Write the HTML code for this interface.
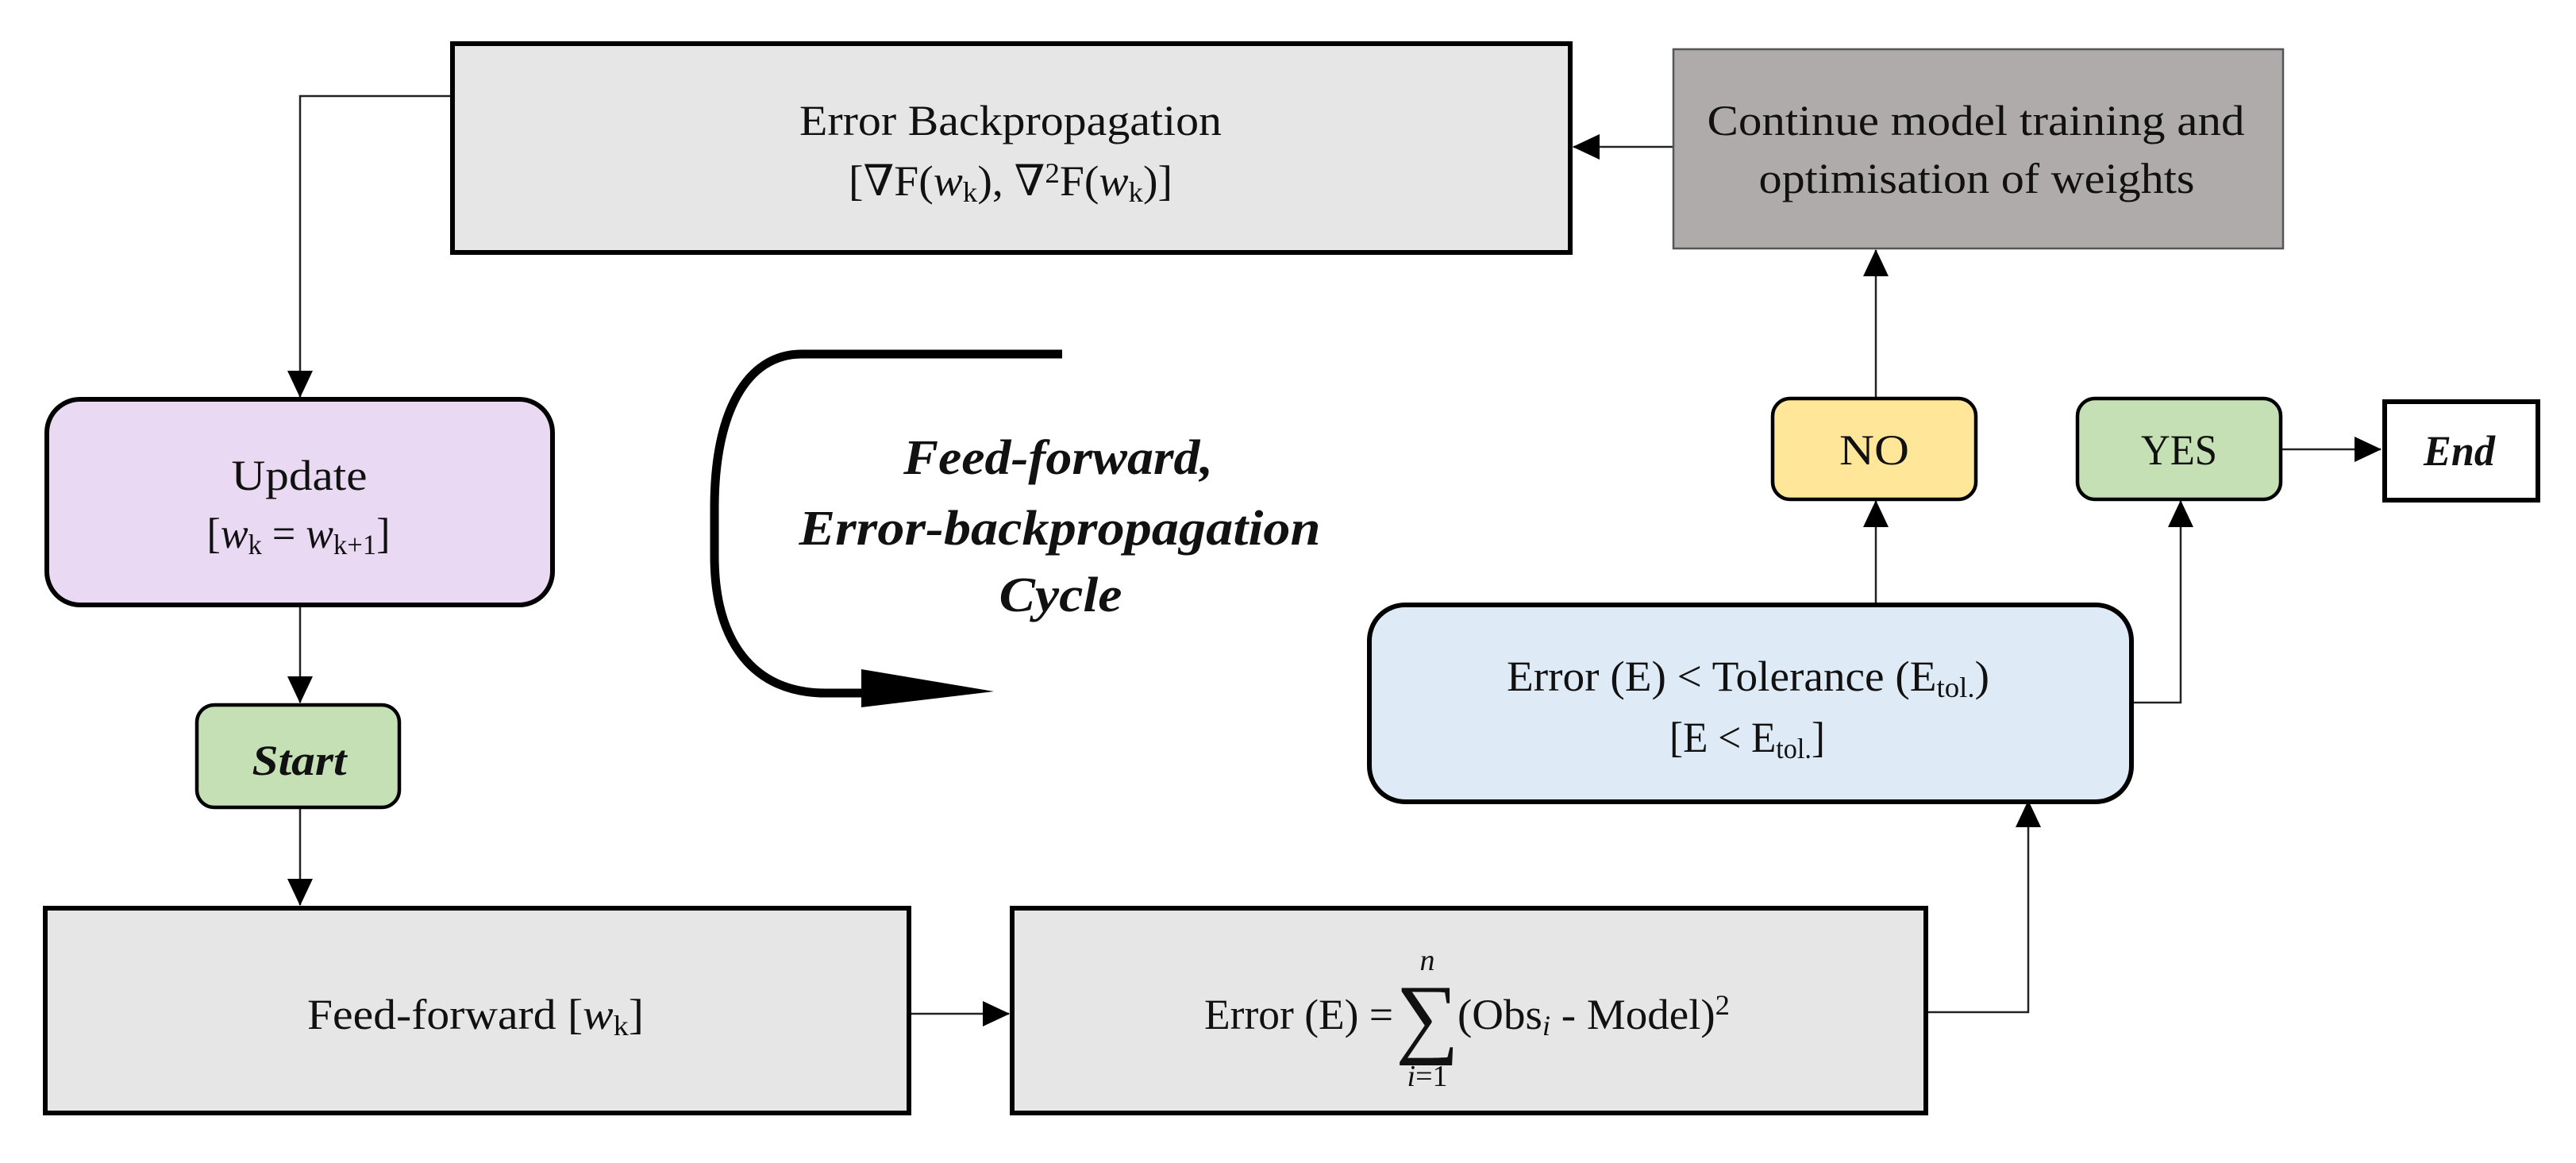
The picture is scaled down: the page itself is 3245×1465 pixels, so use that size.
<!DOCTYPE html>
<html><head><meta charset="utf-8"><style>
html,body{margin:0;padding:0;background:#fff;}
svg{display:block;}
text{font-family:"Liberation Serif","DejaVu Serif",serif;fill:#111;}
</style></head><body>
<svg width="3245" height="1465" viewBox="0 0 3245 1465" xmlns="http://www.w3.org/2000/svg">
<defs>
<marker id="ah" markerWidth="34" markerHeight="34" refX="33" refY="16" orient="auto" markerUnits="userSpaceOnUse">
<path d="M0,0 L34,16 L0,32 Z" fill="#000"/>
</marker>
</defs>

<!-- connectors -->
<polyline points="568,121 378,121 378,500" fill="none" stroke="#222" stroke-width="2.5" marker-end="url(#ah)"/>
<line x1="378" y1="763" x2="378" y2="885" stroke="#222" stroke-width="2.5" marker-end="url(#ah)"/>
<line x1="378" y1="1018" x2="378" y2="1140" stroke="#222" stroke-width="2.5" marker-end="url(#ah)"/>
<line x1="1147" y1="1277" x2="1271" y2="1277" stroke="#222" stroke-width="2.5" marker-end="url(#ah)"/>
<polyline points="2428,1275 2555,1275 2555,1009" fill="none" stroke="#222" stroke-width="2.5" marker-end="url(#ah)"/>
<line x1="2363" y1="760" x2="2363" y2="631" stroke="#222" stroke-width="2.5" marker-end="url(#ah)"/>
<polyline points="2687,885 2747,885 2747,631" fill="none" stroke="#222" stroke-width="2.5" marker-end="url(#ah)"/>
<line x1="2363" y1="500" x2="2363" y2="315" stroke="#222" stroke-width="2.5" marker-end="url(#ah)"/>
<line x1="2107" y1="185" x2="1982" y2="185" stroke="#222" stroke-width="2.5" marker-end="url(#ah)"/>
<line x1="2874" y1="566" x2="2999" y2="566" stroke="#222" stroke-width="2.5" marker-end="url(#ah)"/>

<!-- Error Backpropagation -->
<rect x="570" y="55" width="1408" height="263" fill="#e7e6e6" stroke="#000" stroke-width="6"/>
<text x="1273" y="170" font-size="54" text-anchor="middle" textLength="532" lengthAdjust="spacingAndGlyphs">Error Backpropagation</text>
<text x="1273" y="246" font-size="54" text-anchor="middle" textLength="408" lengthAdjust="spacingAndGlyphs">[∇F(<tspan font-style="italic">w</tspan><tspan font-size="36" dy="8">k</tspan><tspan dy="-8">), ∇</tspan><tspan font-size="36" dy="-16">2</tspan><tspan dy="16">F(</tspan><tspan font-style="italic">w</tspan><tspan font-size="36" dy="8">k</tspan><tspan dy="-8">)]</tspan></text>

<!-- Continue -->
<rect x="2108" y="62" width="768" height="251" fill="#afabab" stroke="#555" stroke-width="2.5"/>
<text x="2489" y="170" font-size="54" text-anchor="middle" textLength="677" lengthAdjust="spacingAndGlyphs">Continue model training and</text>
<text x="2490" y="243" font-size="54" text-anchor="middle" textLength="549" lengthAdjust="spacingAndGlyphs">optimisation of weights</text>

<!-- Update -->
<rect x="59" y="503" width="637" height="259" rx="42" fill="#ead9f2" stroke="#000" stroke-width="6"/>
<text x="377" y="617" font-size="54" text-anchor="middle" textLength="171" lengthAdjust="spacingAndGlyphs">Update</text>
<text x="376" y="690" font-size="54" text-anchor="middle" textLength="231" lengthAdjust="spacingAndGlyphs">[<tspan font-style="italic">w</tspan><tspan font-size="36" dy="8">k</tspan><tspan dy="-8"> = </tspan><tspan font-style="italic">w</tspan><tspan font-size="36" dy="8">k+1</tspan><tspan dy="-8">]</tspan></text>

<!-- Start -->
<rect x="248" y="888" width="255" height="129" rx="22" fill="#c5e0b4" stroke="#000" stroke-width="4.5"/>
<text x="377" y="976" font-size="54" font-weight="bold" font-style="italic" text-anchor="middle" textLength="119" lengthAdjust="spacingAndGlyphs">Start</text>

<!-- Feed-forward -->
<rect x="57" y="1144" width="1088" height="258" fill="#e7e6e6" stroke="#000" stroke-width="6"/>
<text x="599" y="1296" font-size="54" text-anchor="middle" textLength="424" lengthAdjust="spacingAndGlyphs">Feed-forward [<tspan font-style="italic">w</tspan><tspan font-size="36" dy="8">k</tspan><tspan dy="-8">]</tspan></text>

<!-- Error formula box -->
<rect x="1275" y="1144" width="1151" height="258" fill="#e7e6e6" stroke="#000" stroke-width="6"/>
<text x="1517" y="1296" font-size="54" textLength="238" lengthAdjust="spacingAndGlyphs">Error (E) =</text>
<text x="1798" y="1318" font-size="112" text-anchor="middle">∑</text>
<text x="1798" y="1222" font-size="38" font-style="italic" text-anchor="middle">n</text>
<text x="1798" y="1368" font-size="38" text-anchor="middle"><tspan font-style="italic">i</tspan>=1</text>
<text x="1836" y="1296" font-size="54" textLength="343" lengthAdjust="spacingAndGlyphs">(Obs<tspan font-size="36" font-style="italic" dy="8">i</tspan><tspan dy="-8"> - Model)</tspan><tspan font-size="36" dy="-18">2</tspan></text>

<!-- Tolerance -->
<rect x="1725" y="762" width="960" height="248" rx="45" fill="#deebf7" stroke="#000" stroke-width="6"/>
<text x="2202" y="870" font-size="54" text-anchor="middle" textLength="608" lengthAdjust="spacingAndGlyphs">Error (E) &lt; Tolerance (E<tspan font-size="36" dy="8">tol.</tspan><tspan dy="-8">)</tspan></text>
<text x="2201" y="947" font-size="54" text-anchor="middle" textLength="196" lengthAdjust="spacingAndGlyphs">[E &lt; E<tspan font-size="36" dy="8">tol.</tspan><tspan dy="-8">]</tspan></text>

<!-- NO / YES / End -->
<rect x="2233" y="502" width="256" height="127" rx="22" fill="#ffe699" stroke="#000" stroke-width="4.5"/>
<text x="2361" y="585" font-size="54" text-anchor="middle" textLength="88" lengthAdjust="spacingAndGlyphs">NO</text>
<rect x="2617" y="502" width="256" height="127" rx="22" fill="#c5e0b4" stroke="#000" stroke-width="4.5"/>
<text x="2745" y="585" font-size="54" text-anchor="middle" textLength="96" lengthAdjust="spacingAndGlyphs">YES</text>
<rect x="3004" y="506" width="193" height="124" fill="#fff" stroke="#000" stroke-width="6"/>
<text x="3098" y="586" font-size="54" font-weight="bold" font-style="italic" text-anchor="middle" textLength="90" lengthAdjust="spacingAndGlyphs">End</text>

<!-- cycle arrow -->
<path d="M1338,446 L1010,446 C940,446 900,520 900,640 L900,700 C900,810 950,873 1040,873 L1090,873" fill="none" stroke="#000" stroke-width="11"/>
<path d="M1085,843 L1252,871 L1085,891 Z" fill="#000"/>
<text x="1333" y="597" font-size="62" font-weight="bold" font-style="italic" text-anchor="middle" textLength="390" lengthAdjust="spacingAndGlyphs">Feed-forward,</text>
<text x="1335" y="686" font-size="62" font-weight="bold" font-style="italic" text-anchor="middle" textLength="657" lengthAdjust="spacingAndGlyphs">Error-backpropagation</text>
<text x="1336" y="770" font-size="62" font-weight="bold" font-style="italic" text-anchor="middle" textLength="155" lengthAdjust="spacingAndGlyphs">Cycle</text>
</svg>
</body></html>
